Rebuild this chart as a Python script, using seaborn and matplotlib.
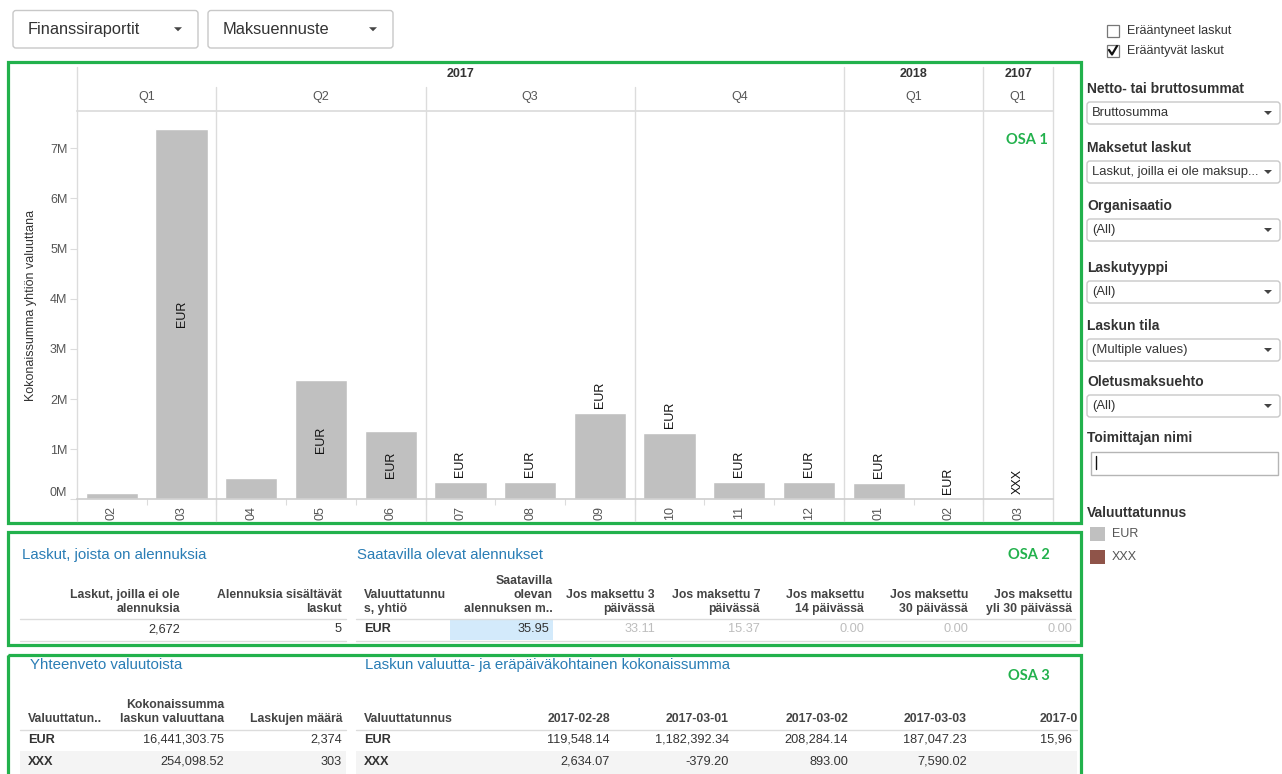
import matplotlib
matplotlib.use("Agg")
import matplotlib.pyplot as plt
import seaborn as sns
import pandas as pd
from itertools import groupby
from matplotlib.patches import Rectangle, FancyBboxPatch, Polygon

# ---- OSA 1: monthly totals ----
years = ["2017"] * 11 + ["2018"] * 2 + ["2107"]
quarters = ["Q1", "Q1", "Q2", "Q2", "Q2", "Q3", "Q3", "Q3", "Q4", "Q4", "Q4", "Q1", "Q1", "Q1"]
months = ["02", "03", "04", "05", "06", "07", "08", "09", "10", "11", "12", "01", "02", "03"]
currency = ["EUR"] * 13 + ["XXX"]
totals = [0.12e6, 7.38e6, 0.42e6, 2.37e6, 1.37e6, 0.35e6, 0.35e6, 1.72e6,
          1.33e6, 0.35e6, 0.35e6, 0.33e6, 0.01e6, 0.005e6]
bar_labels = ["", "EUR", "", "EUR", "EUR", "EUR", "EUR", "EUR",
              "EUR", "EUR", "EUR", "EUR", "EUR", "XXX"]
palette = {"EUR": "#c0c0c0", "XXX": "#8f5449"}

# ---- OSA 2: discounts ----
no_discount_count = "2,672"
discount_count = "5"
discount_currency = "EUR"
discount_headers = ["Saatavilla\nolevan\nalennuksen m..", "Jos maksettu 3\npäivässä",
                    "Jos maksettu 7\npäivässä", "Jos maksettu\n14 päivässä",
                    "Jos maksettu\n30 päivässä", "Jos maksettu\nyli 30 päivässä"]
discount_values = [35.95, 33.11, 15.37, 0.00, 0.00, 0.00]

# ---- OSA 3: currency summary ----
summary_currencies = ["EUR", "XXX"]
summary_totals = [16441303.75, 254098.52]
summary_counts = [2374, 303]
due_dates = ["2017-02-28", "2017-03-01", "2017-03-02", "2017-03-03"]
due_values = {"EUR": [119548.14, 1182392.34, 208284.14, 187047.23],
              "XXX": [2634.07, -379.20, 893.00, 7590.02]}

sns.set_theme(style="white")
plt.rcParams["font.family"] = ["Liberation Sans", "DejaVu Sans"]

W, H = 1282, 774
fig = plt.figure(figsize=(W / 100, H / 100), dpi=100)

def frac(x0, y0, x1, y1):
    return [x0 / W, 1 - y1 / H, (x1 - x0) / W, (y1 - y0) / H]

# overlay in pixel coordinates for the dashboard furniture
ov = fig.add_axes([0, 0, 1, 1], zorder=0)
ov.set_xlim(0, W)
ov.set_ylim(H, 0)
ov.axis("off")

GREEN = "#22b14c"
TITLE = "#2a7db5"
DARK = "#333333"
LINE = "#dcdcdc"

# ---- main bar chart ----
PL, PR, PT, PB = 77, 1053, 111, 499.3
ax = fig.add_axes(frac(PL, PT, PR, PB), zorder=2)
ax.set_facecolor("none")
df = pd.DataFrame({"slot": [f"{y}-{m}" for y, m in zip(years, months)],
                   "total": totals, "currency": currency})
sns.barplot(data=df, x="slot", y="total", hue="currency", palette=palette,
            dodge=False, width=0.75, saturation=1, legend=False, ax=ax)
ymax = (PB - PT) / 50.14 * 1e6
ax.set_xlim(-0.5, len(months) - 0.5)
ax.set_ylim(0, ymax)

centered = {1, 3, 4}  # bars whose label sits inside the bar
for i, (v, lab) in enumerate(zip(totals, bar_labels)):
    if not lab:
        continue
    if i in centered:
        ax.text(i, v / 2, lab, rotation=90, ha="center", va="center", fontsize=9, color="#111")
    else:
        ax.annotate(lab, (i, v), xytext=(0, 3.3), textcoords="offset points",
                    rotation=90, ha="center", va="bottom", fontsize=9, color="#111")

yt = [i * 1e6 for i in range(8)]
ax.set_yticks(yt)
ylabs = ax.set_yticklabels([f"{i}M" for i in range(8)], fontsize=9, color="#555")
ylabs[0].set_va("bottom")
ax.set_xticks(range(len(months)))
ax.set_xticklabels(months, rotation=90, fontsize=9, color="#555")
ax.set_xticks([i + 0.5 for i in range(len(months) - 1)], minor=True)
ax.tick_params(axis="y", which="major", length=5, width=0.8, color=LINE, pad=2, left=True)
ax.tick_params(axis="x", which="major", length=0, pad=5)
ax.tick_params(axis="x", which="minor", length=4, width=0.8, color=LINE, bottom=True)
ax.set_xlabel("")
ax.set_ylabel("Kokonaissumma yhtiön valuuttana", fontsize=9, color="#333")
ax.yaxis.set_label_coords(-0.041, 0.5)
for s in ["left", "right"]:
    ax.spines[s].set_visible(False)
ax.spines["top"].set_color(LINE)
ax.spines["bottom"].set_color("#cfcfcf")

pxh = PB - PT
lo = (PB - 521) / pxh
top_year = (PB - 67) / pxh
top_q = (PB - 87) / pxh

# header axes for year / quarter rows
hx = fig.add_axes(frac(PL, 67, PR, PT), zorder=2)
hx.set_xlim(-0.5, len(months) - 0.5)
hx.set_ylim(0, 1)
hx.axis("off")

pos = 0
for y, grp in groupby(years):
    n = len(list(grp))
    hx.text(pos + (n - 1) / 2, 0.84, y, ha="center", va="center", fontsize=9,
            fontweight="bold", color=DARK)
    pos += n
    ax.axvline(pos - 0.5, ymin=lo, ymax=top_year, color=LINE, lw=1, clip_on=False)
ax.axvline(-0.5, ymin=lo, ymax=top_year, color=LINE, lw=1, clip_on=False)

pos = 0
for (y, q), grp in groupby(zip(years, quarters)):
    n = len(list(grp))
    hx.text(pos + (n - 1) / 2, 0.32, q, ha="center", va="center", fontsize=9, color="#555")
    pos += n
    if pos < len(months) and years[pos] == y:
        ax.axvline(pos - 0.5, ymin=lo, ymax=top_q, color=LINE, lw=1, clip_on=False)

ov.text(1048, 140, "OSA 1", ha="right", va="center", fontsize=10.5, fontweight="bold",
        color=GREEN, family="Lato")

# ---- green panels ----
for x0, y0, x1, y1 in [(7.7, 61.7, 1080.5, 522.7), (7.7, 531.7, 1080.5, 644.5),
                       (7.7, 654.5, 1080.5, 790)]:
    ov.add_patch(Rectangle((x0, y0), x1 - x0, y1 - y0, fill=False, ec=GREEN, lw=2.3))

# ---- top dropdowns ----
def dropdown(x0, y0, x1, y1, text, fs, arrow=4):
    ov.add_patch(FancyBboxPatch((x0, y0), x1 - x0, y1 - y0,
                                boxstyle="round,pad=0,rounding_size=3",
                                fc="white", ec="#c8c8c8", lw=1))
    cy = (y0 + y1) / 2
    ov.text(x0 + (15 if fs > 10 else 5), cy, text, ha="left", va="center", fontsize=fs, color=DARK)
    ax_ = x1 - (20 if fs > 10 else 12)
    ov.add_patch(Polygon([(ax_ - arrow, cy - arrow / 2), (ax_ + arrow, cy - arrow / 2),
                          (ax_, cy + arrow / 2)], closed=True, fc="#444", ec="none"))

dropdown(13, 10.5, 198, 48, "Finanssiraportit", 11.8)
dropdown(208, 10.5, 393, 48, "Maksuennuste", 11.8)

# ---- right panel ----
ov.add_patch(Rectangle((1106.5, 24.5), 12, 12, fc="white", ec="#777", lw=0.9))
ov.text(1127, 31, "Erääntyneet laskut", ha="left", va="center", fontsize=9, color=DARK)
ov.add_patch(Rectangle((1106.5, 44.5), 12, 12, fc="white", ec="#777", lw=0.9))
ov.plot([1109, 1112, 1117], [50, 54.5, 46], color="#111", lw=1.6)
ov.text(1127, 51, "Erääntyvät laskut", ha="left", va="center", fontsize=9, color=DARK)

filters = [("Netto- tai bruttosummat", 89, "Bruttosumma"),
           ("Maksetut laskut", 148, "Laskut, joilla ei ole maksup..."),
           ("Organisaatio", 206, "(All)"),
           ("Laskutyyppi", 268, "(All)"),
           ("Laskun tila", 326, "(Multiple values)"),
           ("Oletusmaksuehto", 382, "(All)")]
for title, ty, val in filters:
    ov.text(1087, ty, title, ha="left", va="center", fontsize=10, fontweight="bold", color=DARK)
    dropdown(1087, ty + 13, 1280, ty + 35, val, 9.4)

ov.text(1087, 438, "Toimittajan nimi", ha="left", va="center", fontsize=10,
        fontweight="bold", color=DARK)
ov.add_patch(Rectangle((1090.5, 451.5), 187, 23, fc="white", ec="#b5b5b5", lw=1))
ov.plot([1096, 1096], [456, 469], color="#111", lw=1)

ov.text(1087, 513, "Valuuttatunnus", ha="left", va="center", fontsize=10,
        fontweight="bold", color=DARK)
for k, cur in enumerate(palette):
    ov.add_patch(Rectangle((1090, 527 + k * 23), 15, 14, fc=palette[cur], ec="none"))
    ov.text(1112, 534 + k * 23, cur, ha="left", va="center", fontsize=9, color="#555")

# ---- OSA 2 table ----
FS = 8.8
DS = 9.2
ov.text(22, 555, "Laskut, joista on alennuksia", ha="left", va="center", fontsize=10.8, color=TITLE)
ov.text(357, 555, "Saatavilla olevat alennukset", ha="left", va="center", fontsize=10.8, color=TITLE)
ov.text(1050, 555, "OSA 2", ha="right", va="center", fontsize=10.5, fontweight="bold",
        color=GREEN, family="Lato")
hdr = dict(va="bottom", fontsize=FS, fontweight="bold", color="#444", linespacing=1.25)
ov.text(180, 615, "Laskut, joilla ei ole\nalennuksia", ha="right", **hdr)
ov.text(342, 615, "Alennuksia sisältävät\nlaskut", ha="right", **hdr)
ov.text(364, 615, "Valuuttatunnu\ns, yhtiö", ha="left", **hdr)
right_edges = [553, 655, 760, 864, 968, 1072]
for xr, h in zip(right_edges, discount_headers):
    ov.text(xr, 615, h, ha="right", **hdr)
for yl in (618.5, 640.5):
    ov.plot([20, 346], [yl, yl], color=LINE, lw=1)
    ov.plot([356, 1075], [yl, yl], color=LINE, lw=1)
ov.add_patch(Rectangle((450, 619), 103, 21, fc="#d3eafb", ec="none"))
ov.text(180, 629.5, no_discount_count, ha="right", va="center", fontsize=DS, color=DARK)
ov.text(342, 629.5, discount_count, ha="right", va="center", fontsize=DS, color=DARK)
ov.text(364, 629.5, discount_currency, ha="left", va="center", fontsize=DS,
        fontweight="bold", color=DARK)
for k, (xr, v) in enumerate(zip(right_edges, discount_values)):
    ov.text(xr - 4 if k == 0 else xr, 629.5, f"{v:,.2f}", ha="right", va="center",
            fontsize=DS, color=DARK if k == 0 else "#bdbdbd")

# ---- OSA 3 tables ----
ov.text(30, 665, "Yhteenveto valuutoista", ha="left", va="center", fontsize=10.8, color=TITLE)
ov.text(365, 665, "Laskun valuutta- ja eräpäiväkohtainen kokonaissumma", ha="left",
        va="center", fontsize=10.8, color=TITLE)
ov.text(1050, 676, "OSA 3", ha="right", va="center", fontsize=10.5, fontweight="bold",
        color=GREEN, family="Lato")
ov.text(28, 725, "Valuuttatun..", ha="left", **hdr)
ov.text(224, 725, "Kokonaissumma\nlaskun valuuttana", ha="right", **hdr)
ov.text(342, 725, "Laskujen määrä", ha="right", **hdr)
ov.text(364, 725, "Valuuttatunnus", ha="left", **hdr)
date_edges = [610, 729, 848, 967]
for xr, d in zip(date_edges, due_dates):
    ov.text(xr, 725, d, ha="right", **hdr)
ov.text(1040, 725, "2017-0", ha="left", **hdr)
ov.plot([20, 346], [729.5, 729.5], color=LINE, lw=1)
ov.plot([356, 1077], [729.5, 729.5], color=LINE, lw=1)
ov.add_patch(Rectangle((20, 751), 326, 23, fc="#f4f4f4", ec="none"))
ov.add_patch(Rectangle((356, 751), 721, 23, fc="#f4f4f4", ec="none"))
for r, cur in enumerate(summary_currencies):
    y = 740 + r * 22
    ov.text(28, y, cur, ha="left", va="center", fontsize=DS, fontweight="bold", color=DARK)
    ov.text(224, y, f"{summary_totals[r]:,.2f}", ha="right", va="center", fontsize=DS, color=DARK)
    ov.text(342, y, f"{summary_counts[r]:,}", ha="right", va="center", fontsize=DS, color=DARK)
    ov.text(364, y, cur, ha="left", va="center", fontsize=DS, fontweight="bold", color=DARK)
    for xr, v in zip(date_edges, due_values[cur]):
        ov.text(xr, y, f"{v:,.2f}", ha="right", va="center", fontsize=DS, color=DARK)
ov.text(1040, 740, "15,96", ha="left", va="center", fontsize=DS, color=DARK)

fig.savefig("out.png", dpi=100)
